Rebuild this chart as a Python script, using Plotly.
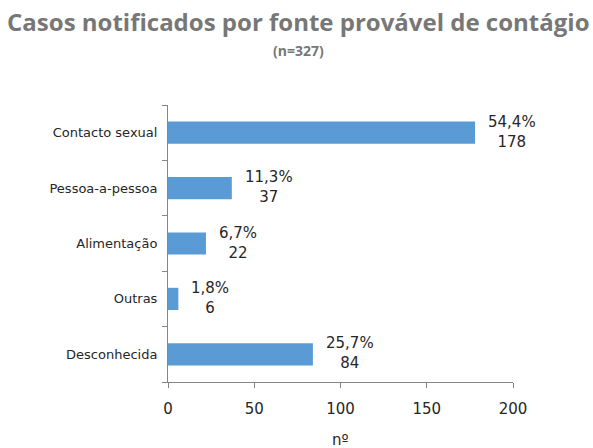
import plotly.graph_objects as go

categories = ["Contacto sexual", "Pessoa-a-pessoa", "Alimentação", "Outras", "Desconhecida"]
counts = [178, 37, 22, 6, 84]
percents = ["54,4%", "11,3%", "6,7%", "1,8%", "25,7%"]
x_ticks = [0, 50, 100, 150, 200]

fig = go.Figure()
fig.add_trace(go.Bar(
    y=categories, x=counts, orientation="h",
    marker=dict(color="#5B9BD5", line=dict(width=0)),
    width=0.4, hoverinfo="skip",
))

for c, v, p in zip(categories, counts, percents):
    fig.add_annotation(
        x=v, y=c, xref="x", yref="y",
        text=f"{p}<br>{v}", showarrow=False,
        xanchor="left", yanchor="middle", xshift=11, yshift=1,
        align="center",
        font=dict(family="DejaVu Sans", size=15, color="#262626"),
    )

# subtitle centred on the page (paper x for page centre)
fig.add_annotation(
    text="<b>(n=327)</b>",
    xref="paper", yref="paper", x=(298 - 168) / 345, y=(448 - 66 - 50) / 277, showarrow=False,
    xanchor="center", yanchor="middle",
    font=dict(family="Open Sans", size=14, color="#777777"),
)

fig.add_annotation(
    text="nº",
    xref="paper", yref="paper", x=0.5, y=(448 - 66 - 440) / 277, showarrow=False,
    xanchor="center", yanchor="middle",
    font=dict(family="DejaVu Sans", size=15, color="#262626"),
)

fig.update_layout(
    width=593, height=448,
    margin=dict(l=168, r=80, t=105, b=66, autoexpand=False),
    paper_bgcolor="white", plot_bgcolor="white",
    showlegend=False,
    title=dict(
        text="<b>Casos notificados por fonte provável de contágio</b>",
        x=0.503, xanchor="center", y=1 - 23 / 448, yanchor="middle", xref="container",
        font=dict(family="Open Sans", size=24, color="#777777"),
    ),
    xaxis=dict(
        range=[0, 200], tickvals=x_ticks, ticktext=[str(t) for t in x_ticks],
        showgrid=False, zeroline=False, automargin=False,
        showline=True, linecolor="#868686", linewidth=1,
        ticks="outside", ticklen=5, tickcolor="#868686",
        ticklabelstandoff=8,
        tickfont=dict(family="DejaVu Sans", size=15, color="#262626"),
        fixedrange=True,
    ),
    yaxis=dict(
        categoryorder="array", categoryarray=categories[::-1],
        showgrid=False, zeroline=False, automargin=False,
        showline=True, linecolor="#868686", linewidth=1,
        ticks="outside", ticklen=5, tickcolor="#868686",
        tickson="boundaries",
        ticklabelstandoff=7,
        tickfont=dict(family="DejaVu Sans", size=13, color="#262626"),
        fixedrange=True,
    ),
)

fig.write_html("out.html", config={"displayModeBar": False},
               post_script="document.body.style.margin='0';document.body.style.overflow='hidden';")
